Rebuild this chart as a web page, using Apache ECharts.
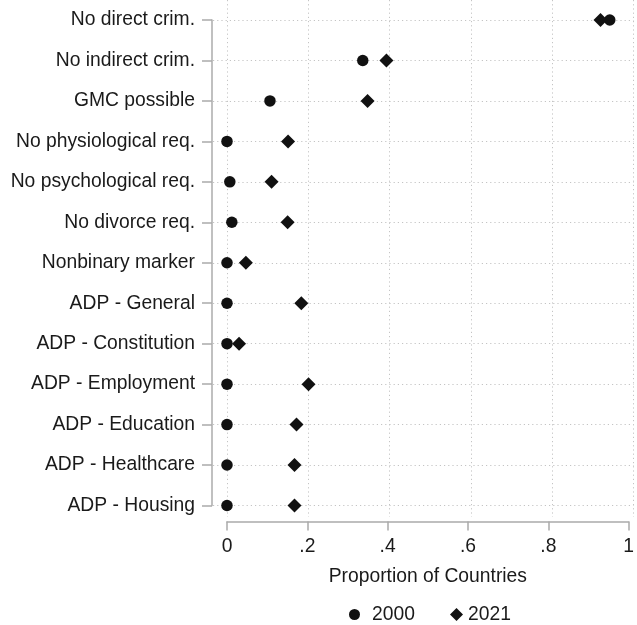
<!DOCTYPE html>
<html>
<head>
<meta charset="utf-8">
<script src="https://cdn.jsdelivr.net/npm/echarts@6/dist/echarts.min.js"></script>
<style>html,body{margin:0;padding:0;background:#fff}#c{width:637px;height:625px}</style>
</head>
<body>
<div id="c"></div>
<script>
const categories = ["No direct crim.", "No indirect crim.", "GMC possible", "No physiological req.", "No psychological req.", "No divorce req.", "Nonbinary marker", "ADP - General", "ADP - Constitution", "ADP - Employment", "ADP - Education", "ADP - Healthcare", "ADP - Housing"];
const values2000 = [0.953, 0.338, 0.107, 0.0, 0.007, 0.012, 0.0, 0.0, 0.0, 0.0, 0.0, 0.0, 0.0];
const values2021 = [0.930, 0.397, 0.350, 0.152, 0.111, 0.151, 0.047, 0.185, 0.030, 0.203, 0.173, 0.168, 0.168];
const xTicks = [0, 0.2, 0.4, 0.6, 0.8, 1];
const xLabels = {0: "0", 0.2: ".2", 0.4: ".4", 0.6: ".6", 0.8: ".8", 1: "1"};

const FONT = "'Liberation Sans', Arial, Helvetica, sans-serif";
const TXT = "#1a1a1a";
const AX = "#ababab";
const GRIDC = "#c4c4c4";
const chart = echarts.init(document.getElementById('c'), null, {renderer: 'canvas'});
const fmt = v => { const k = Math.round(v * 10) / 10; return xLabels[k] !== undefined ? xLabels[k] : String(k); };

chart.setOption({
  animation: false,
  textStyle: {fontFamily: FONT, color: TXT},
  grid: [
    {left: 227, right: 3.5, top: 20, bottom: 119.5},
    {left: 227, right: 3.5, top: 0, bottom: 108},
    {left: 213, right: 3.5, top: 20, bottom: 119.5}
  ],
  xAxis: [
    {gridIndex: 0, type: 'value', min: xTicks[0], max: xTicks[xTicks.length - 1], interval: 0.2, offset: 16,
     axisLine: {show: true, onZero: false, lineStyle: {color: AX, width: 1.5}},
     axisTick: {show: true, length: 9, lineStyle: {color: AX, width: 1.5}},
     axisLabel: {fontSize: 19.3, color: TXT, fontFamily: FONT, margin: 16, formatter: fmt},
     splitLine: {show: false},
     name: 'Proportion of Countries', nameLocation: 'middle', nameGap: 46,
     nameTextStyle: {fontSize: 19.3, color: TXT, fontFamily: FONT}},
    {gridIndex: 1, type: 'value', min: 0, max: 1, interval: 0.2,
     axisLine: {show: false}, axisTick: {show: false}, axisLabel: {show: false},
     splitLine: {show: true, lineStyle: {color: GRIDC, width: 1, type: [1.2, 3]}}},
    {gridIndex: 2, type: 'value', min: 0, max: 1, show: false}
  ],
  yAxis: [
    {gridIndex: 0, type: 'category', data: categories, inverse: true, boundaryGap: false, offset: 15,
     axisLine: {show: true, onZero: false, lineStyle: {color: AX, width: 1.5}},
     axisTick: {show: true, length: 10, alignWithLabel: true, lineStyle: {color: AX, width: 1.5}},
     axisLabel: {fontSize: 19.3, color: TXT, fontFamily: FONT, margin: 17, interval: 0},
     splitLine: {show: false}},
    {gridIndex: 1, type: 'value', show: false},
    {gridIndex: 2, type: 'category', data: categories, inverse: true, boundaryGap: false,
     axisLine: {show: false}, axisTick: {show: false}, axisLabel: {show: false},
     splitLine: {show: true, interval: 0, lineStyle: {color: GRIDC, width: 1, type: [1.2, 3]}}}
  ],
  legend: [
    {data: [{name: '2000', icon: 'circle'}], left: 344, top: 600, itemWidth: 11, itemHeight: 11,
     textStyle: {fontSize: 19.3, color: TXT, fontFamily: FONT, padding: [0, 0, 0, 7]}},
    {data: [{name: '2021', icon: 'diamond'}], left: 445, top: 600, itemWidth: 13, itemHeight: 13,
     textStyle: {fontSize: 19.3, color: TXT, fontFamily: FONT}}
  ],
  series: [
    {name: '2000', type: 'scatter', xAxisIndex: 0, yAxisIndex: 0, symbol: 'circle', symbolSize: 11.5,
     itemStyle: {color: '#111', opacity: 1}, data: values2000.map((v, i) => [v, categories[i]]), z: 5},
    {name: '2021', type: 'scatter', xAxisIndex: 0, yAxisIndex: 0, symbol: 'diamond', symbolSize: 14,
     itemStyle: {color: '#111', opacity: 1}, data: values2021.map((v, i) => [v, categories[i]]), z: 6}
  ]
});
</script>
</body>
</html>
